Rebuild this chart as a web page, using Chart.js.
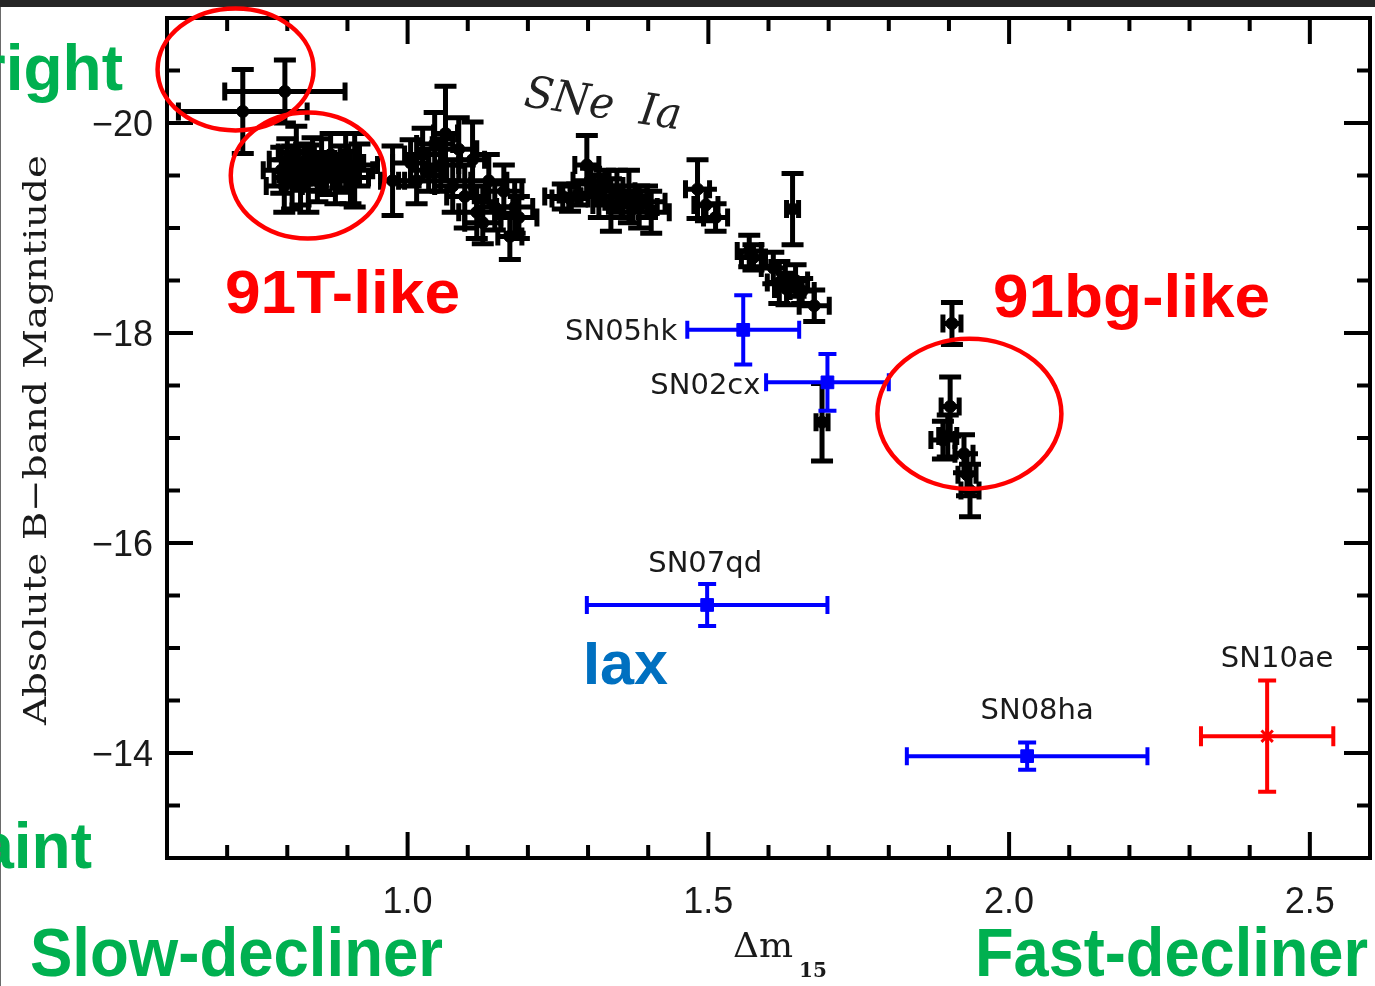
<!DOCTYPE html>
<html>
<head>
<meta charset="utf-8">
<script src="https://cdn.jsdelivr.net/npm/chart.js@4"></script>
<style>
  html, body { margin: 0; padding: 0; background: #fff; }
  #wrap { width: 1375px; height: 986px; position: relative; }
</style>
</head>
<body>
<div id="wrap"><canvas id="grafico" width="1375" height="986"></canvas></div>
<script>
// SNe Ia (black): decline rate, peak magnitude, errors
const iaDm15 = [0.726, 0.796,
  0.790, 0.795, 0.800, 0.808, 0.815, 0.822, 0.828, 0.835, 0.842, 0.850, 0.857, 0.865, 0.872, 0.880, 0.888, 0.897, 0.905, 0.912, 0.920,
  0.975, 1.005, 1.015, 1.025, 1.035, 1.045, 1.055, 1.063, 1.075, 1.085, 1.095, 1.108, 1.115, 1.125, 1.135, 1.145, 1.160, 1.170, 1.178, 1.185,
  1.258, 1.270, 1.282, 1.298, 1.305, 1.318, 1.328, 1.338, 1.348, 1.358, 1.368, 1.385, 1.398, 1.405,
  1.482, 1.496, 1.512, 1.568, 1.575, 1.640, 1.608, 1.618, 1.630, 1.645, 1.656, 1.676,
  1.689,
  1.905, 1.902, 1.890, 1.898, 1.925, 1.930, 1.935];
const iaMag = [-20.11, -20.30,
  -19.55, -19.40, -19.65, -19.48, -19.72, -19.42, -19.58, -19.47, -19.66, -19.45, -19.60, -19.52, -19.70, -19.45, -19.58, -19.62, -19.48, -19.55, -19.60,
  -19.45, -19.62, -19.45, -19.70, -19.55, -19.80, -19.60, -19.90, -19.40, -19.75, -19.30, -19.65, -19.15, -19.05, -19.45, -19.20, -19.35, -18.92, -19.20, -19.10,
  -19.30, -19.28, -19.32, -19.60, -19.45, -19.30, -19.40, -19.22, -19.35, -19.25, -19.30, -19.20, -19.25, -19.15,
  -19.37, -19.22, -19.10, -18.78, -18.72, -19.18, -18.62, -18.48, -18.42, -18.50, -18.40, -18.26,
  -17.15,
  -18.09, -17.30, -16.98, -17.02, -16.85, -16.65, -16.50];
const iaMagErr = [0.40, 0.30,
  0.22, 0.25, 0.20, 0.30, 0.25, 0.20, 0.22, 0.32, 0.20, 0.20, 0.25, 0.20, 0.20, 0.22, 0.20, 0.28, 0.25, 0.35, 0.20,
  0.33, 0.22, 0.22, 0.25, 0.20, 0.30, 0.25, 0.45, 0.25, 0.30, 0.30, 0.36, 0.25, 0.20, 0.25, 0.22, 0.25, 0.22, 0.25, 0.20,
  0.12, 0.12, 0.10, 0.28, 0.12, 0.20, 0.15, 0.25, 0.20, 0.15, 0.25, 0.20, 0.15, 0.20,
  0.28, 0.15, 0.13, 0.15, 0.12, 0.34, 0.15, 0.20, 0.15, 0.15, 0.12, 0.15,
  0.37,
  0.20, 0.28, 0.18, 0.20, 0.18, 0.20, 0.25];
const iaDmErr = [0.107, 0.100,
  0.03, 0.03, 0.03, 0.03, 0.03, 0.03, 0.03, 0.03, 0.03, 0.03, 0.03, 0.03, 0.03, 0.03, 0.03, 0.03, 0.03, 0.03, 0.03,
  0.02, 0.03, 0.03, 0.03, 0.03, 0.03, 0.03, 0.02, 0.03, 0.03, 0.03, 0.02, 0.03, 0.03, 0.03, 0.03, 0.03, 0.02, 0.03, 0.03,
  0.03, 0.03, 0.03, 0.02, 0.03, 0.03, 0.03, 0.03, 0.03, 0.03, 0.03, 0.03, 0.03, 0.03,
  0.02, 0.02, 0.02, 0.02, 0.02, 0.01, 0.02, 0.02, 0.02, 0.02, 0.02, 0.025,
  0.01,
  0.015, 0.015, 0.02, 0.015, 0.015, 0.015, 0.015];

// SNe Iax (blue)
const iaxNames = ['SN05hk', 'SN02cx', 'SN07qd', 'SN08ha'];
const iaxDm15 = [1.558, 1.698, 1.498, 2.030];
const iaxMag = [-18.03, -17.53, -15.41, -13.97];
const iaxMagErr = [0.33, 0.27, 0.20, 0.13];
const iaxDmErr = [0.093, 0.102, 0.20, 0.20];

// SN 2010ae (red)
const redNames = ['SN10ae'];
const redDm15 = [2.429];
const redMag = [-14.16];
const redMagErr = [0.53];
const redDmErr = [0.11];

// eixos
const xRange = [0.6, 2.6];
const yRange = [-21, -13];
const xTickLabels = [1.0, 1.5, 2.0, 2.5];
const yTickLabels = [-20, -18, -16, -14];

// elipses vermelhas (centro em dados)
const ellipseCenters = [[0.714, -20.51], [0.834, -19.50], [1.934, -17.23]];

// deslocamentos (px) dos rotulos das Iax
const labelOffsets = [[-66, 3, 'right'], [-67, 4, 'right'], [-2, -40, 'center'], [10, -45, 'center']];
const redLabelOffsets = [[10, -77, 'center']];
const ellipseRadii = [[78, 61], [77, 63], [92, 75]];

function pontos(xs, ys) {
    return xs.map((x, i) => ({ x: x, y: ys[i] }));
}

function fitText(ctx, text, x, y, width, align) {
    const w = ctx.measureText(text).width;
    const s = width / w;
    ctx.save();
    ctx.translate(x, y);
    ctx.scale(s, 1);
    ctx.textAlign = align || 'left';
    ctx.fillText(text, 0, 0);
    ctx.restore();
}

// barras de erro desenhadas antes dos marcadores
const errorBars = {
    id: 'errorBars',
    beforeDatasetsDraw(chart) {
        const ctx = chart.ctx;
        const xs = chart.scales.x, ys = chart.scales.y;
        chart.data.datasets.forEach(ds => {
            ctx.save();
            ctx.strokeStyle = ds.barColor;
            ctx.lineWidth = ds.barWidth;
            ctx.lineCap = 'butt';
            ds.data.forEach((p, i) => {
                const px = xs.getPixelForValue(p.x);
                const py = ys.getPixelForValue(p.y);
                const y1 = ys.getPixelForValue(p.y - ds.errY[i]);
                const y2 = ys.getPixelForValue(p.y + ds.errY[i]);
                const x1 = xs.getPixelForValue(p.x - ds.errX[i]);
                const x2 = xs.getPixelForValue(p.x + ds.errX[i]);
                ctx.beginPath();
                ctx.moveTo(px, y1); ctx.lineTo(px, y2);
                ctx.moveTo(px - ds.capW, y1); ctx.lineTo(px + ds.capW, y1);
                ctx.moveTo(px - ds.capW, y2); ctx.lineTo(px + ds.capW, y2);
                ctx.moveTo(x1, py); ctx.lineTo(x2, py);
                ctx.moveTo(x1, py - ds.capH); ctx.lineTo(x1, py + ds.capH);
                ctx.moveTo(x2, py - ds.capH); ctx.lineTo(x2, py + ds.capH);
                ctx.stroke();
            });
            ctx.restore();
        });
    }
};

// moldura, ticks, textos e anotacoes
const decoracao = {
    id: 'decoracao',
    beforeDraw(chart) {
        const ctx = chart.ctx;
        ctx.save();
        ctx.fillStyle = '#fff';
        ctx.fillRect(0, 0, chart.width, chart.height);
        ctx.fillStyle = '#262626';
        ctx.fillRect(0, 0, chart.width, 7);
        ctx.fillStyle = '#6a6a6a';
        ctx.fillRect(0, 7, 1, chart.height - 7);
        ctx.restore();
    },
    afterDraw(chart) {
        const ctx = chart.ctx;
        const a = chart.chartArea;
        const xs = chart.scales.x, ys = chart.scales.y;
        ctx.save();

        // moldura
        ctx.strokeStyle = '#000';
        ctx.lineWidth = 4;
        ctx.strokeRect(a.left, a.top, a.right - a.left, a.bottom - a.top);

        // ticks x (0.1) e y (0.5), para dentro
        ctx.lineWidth = 4;
        ctx.beginPath();
        for (let k = 6; k <= 26; k++) {
            const v = k / 10;
            const len = (k % 5 === 0) ? 26 : 13;
            const px = xs.getPixelForValue(v);
            ctx.moveTo(px, a.bottom); ctx.lineTo(px, a.bottom - len);
            ctx.moveTo(px, a.top); ctx.lineTo(px, a.top + len);
        }
        for (let k = -42; k <= -26; k++) {
            const v = k / 2;
            const len = (k % 4 === 0) ? 26 : 13;
            const py = ys.getPixelForValue(v);
            ctx.moveTo(a.left, py); ctx.lineTo(a.left + len, py);
            ctx.moveTo(a.right, py); ctx.lineTo(a.right - len, py);
        }
        ctx.stroke();

        // rotulos dos ticks
        ctx.fillStyle = '#1a1a1a';
        ctx.font = '36px "Liberation Sans"';
        ctx.textBaseline = 'middle';
        ctx.textAlign = 'center';
        xTickLabels.forEach(v => {
            ctx.fillText(v.toFixed(1), xs.getPixelForValue(v), a.bottom + 45);
        });
        ctx.textAlign = 'right';
        yTickLabels.forEach(v => {
            ctx.fillText('\u2212' + Math.abs(v), a.left - 14, ys.getPixelForValue(v) + 3);
        });

        // titulo x
        ctx.textBaseline = 'alphabetic';
        ctx.textAlign = 'left';
        ctx.font = '34px "DejaVu Serif"';
        fitText(ctx, '\u0394m', 733, 957, 60);
        ctx.font = 'bold 20px "DejaVu Serif"';
        ctx.fillText('15', 799, 977);

        // titulo y
        ctx.save();
        ctx.translate(46, 440);
        ctx.rotate(-Math.PI / 2);
        ctx.font = '32px "DejaVu Serif"';
        fitText(ctx, 'Absolute B\u2212band Magntiude', -285, 0, 570);
        ctx.restore();

        // SNe Ia
        ctx.save();
        ctx.translate(523, 106);
        ctx.rotate(8.5 * Math.PI / 180);
        ctx.font = 'italic 44px "DejaVu Serif"';
        ctx.fillStyle = '#222';
        fitText(ctx, 'SNe  Ia', 0, 0, 158);
        ctx.restore();

        // rotulos das Iax
        ctx.font = '29px "DejaVu Sans"';
        ctx.fillStyle = '#1a1a1a';
        ctx.textBaseline = 'middle';
        chart.data.datasets.forEach(ds => {
            if (!ds.names) return;
            ds.names.forEach((n, i) => {
                const p = ds.data[i];
                const off = ds.offsets[i];
                ctx.textAlign = off[2];
                ctx.fillText(n, xs.getPixelForValue(p.x) + off[0], ys.getPixelForValue(p.y) + off[1]);
            });
        });

        // elipses vermelhas
        ctx.strokeStyle = '#ff0000';
        ctx.lineWidth = 4.5;
        ellipseCenters.forEach((c, i) => {
            ctx.beginPath();
            ctx.ellipse(xs.getPixelForValue(c[0]), ys.getPixelForValue(c[1]), ellipseRadii[i][0], ellipseRadii[i][1], 0, 0, 2 * Math.PI);
            ctx.stroke();
        });

        // anotacoes
        ctx.textBaseline = 'alphabetic';
        ctx.font = 'bold 62px "Liberation Sans"';
        ctx.fillStyle = '#ff0000';
        fitText(ctx, '91T-like', 225, 313, 235);
        fitText(ctx, '91bg-like', 993, 317, 277);
        ctx.fillStyle = '#0070c0';
        fitText(ctx, 'Iax', 583, 684, 85);
        ctx.fillStyle = '#00b050';
        ctx.font = 'bold 68px "Liberation Sans"';
        fitText(ctx, 'Slow-decliner', 30, 976, 413);
        fitText(ctx, 'Fast-decliner', 975, 976, 393);
        ctx.font = 'bold 64px "Liberation Sans"';
        ctx.textAlign = 'right';
        ctx.fillText('Bright', 123, 90);
        ctx.fillText('Faint', 92, 868);
        ctx.restore();
    }
};

function criarGrafico() {
    const ctx = document.getElementById('grafico').getContext('2d');
    new Chart(ctx, {
        type: 'scatter',
        data: {
            datasets: [{
                label: 'SNe Ia',
                data: pontos(iaDm15, iaMag),
                errX: iaDmErr, errY: iaMagErr,
                barColor: '#000', barWidth: 5, capW: 11, capH: 9,
                pointStyle: 'circle', pointRadius: 6,
                backgroundColor: '#000', borderColor: '#000', borderWidth: 1
            }, {
                label: 'SNe Iax',
                data: pontos(iaxDm15, iaxMag),
                names: iaxNames, offsets: labelOffsets,
                errX: iaxDmErr, errY: iaxMagErr,
                barColor: '#0000ff', barWidth: 4, capW: 9, capH: 9,
                pointStyle: 'rect', pointRadius: 9,
                backgroundColor: '#0000ff', borderColor: '#0000ff', borderWidth: 1
            }, {
                label: 'SN 2010ae',
                data: pontos(redDm15, redMag),
                names: redNames, offsets: redLabelOffsets,
                errX: redDmErr, errY: redMagErr,
                barColor: '#ff0000', barWidth: 4, capW: 9, capH: 10,
                pointStyle: 'star', pointRadius: 8,
                backgroundColor: '#ff0000', borderColor: '#ff0000', borderWidth: 3
            }]
        },
        options: {
            responsive: false,
            devicePixelRatio: 1,
            animation: false,
            layout: { autoPadding: false, padding: { left: 167, top: 18, right: 5, bottom: 128 } },
            plugins: { legend: { display: false }, tooltip: { enabled: false } },
            scales: {
                x: { type: 'linear', min: xRange[0], max: xRange[1], display: false },
                y: { type: 'linear', min: yRange[0], max: yRange[1], reverse: true, display: false }
            }
        },
        plugins: [decoracao, errorBars]
    });
}

document.addEventListener('DOMContentLoaded', criarGrafico);
</script>
</body>
</html>
